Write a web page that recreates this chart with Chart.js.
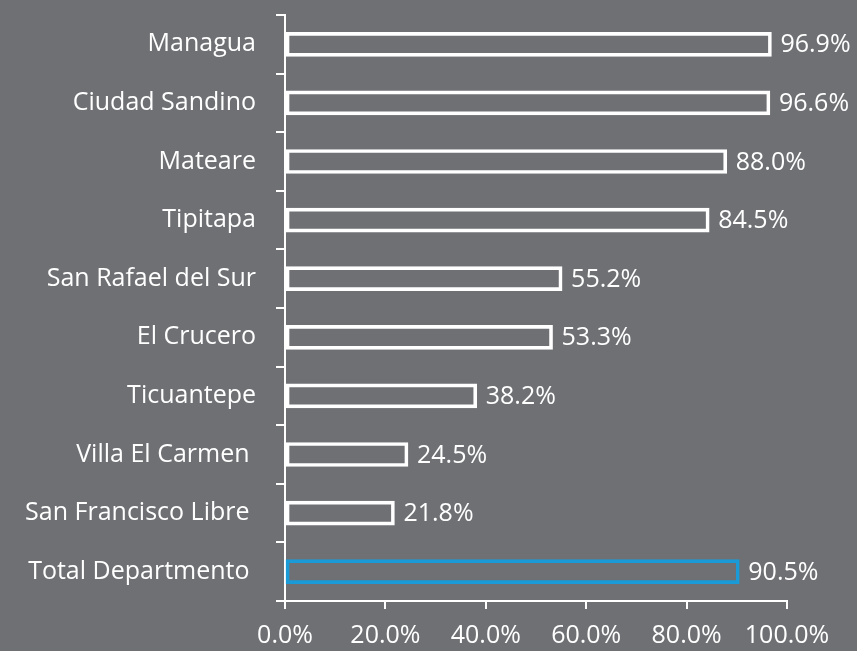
<!DOCTYPE html>
<html lang="es">
<head>
<meta charset="UTF-8" />
<title>Cobertura por municipio</title>
<style>
  html, body {
    margin: 0;
    padding: 0;
    background: #6e7074;
  }
  #wrap {
    width: 857px;
    height: 651px;
    position: relative;
  }
</style>
</head>
<body>
<div id="wrap"><canvas id="chart" width="857" height="651"></canvas></div>

<script src="https://cdn.jsdelivr.net/npm/chart.js"></script>
<script>
  // datos
  const municipios = ['Managua', 'Ciudad Sandino', 'Mateare', 'Tipitapa', 'San Rafael del Sur',
    'El Crucero', 'Ticuantepe', 'Villa El Carmen ', 'San Francisco Libre ', 'Total Departmento '];
  const valores = [96.9, 96.6, 88.0, 84.5, 55.2, 53.3, 38.2, 24.5, 21.8, 90.5];
  const bordes = ['#ffffff', '#ffffff', '#ffffff', '#ffffff', '#ffffff',
    '#ffffff', '#ffffff', '#ffffff', '#ffffff', '#1a9ad6'];
  const xTicks = [0, 20, 40, 60, 80, 100];

  const fuente = "'Open Sans', sans-serif";

  // etiquetas de valor al final de cada barra
  const etiquetas = {
    id: 'etiquetas',
    afterDatasetsDraw(chart) {
      const ctx = chart.ctx;
      const meta = chart.getDatasetMeta(0);
      ctx.save();
      ctx.fillStyle = '#ffffff';
      ctx.font = '25px ' + fuente;
      ctx.textAlign = 'left';
      ctx.textBaseline = 'middle';
      meta.data.forEach((bar, i) => {
        ctx.fillText(valores[i].toFixed(1) + '%', bar.x + 9, bar.y + 1);
      });
      ctx.restore();
    }
  };

  new Chart(document.getElementById('chart'), {
    type: 'bar',
    data: {
      labels: municipios,
      datasets: [{
        data: valores,
        backgroundColor: 'rgba(0,0,0,0)',
        borderColor: bordes,
        borderWidth: 3,
        borderSkipped: false,
        barThickness: 24
      }]
    },
    plugins: [etiquetas],
    options: {
      indexAxis: 'y',
      responsive: false,
      animation: false,
      layout: { padding: { top: 15, right: 70, left: 0, bottom: 0 } },
      plugins: {
        legend: { display: false },
        tooltip: { enabled: false }
      },
      scales: {
        x: {
          min: 0,
          max: 100,
          afterBuildTicks(axis) {
            axis.ticks = xTicks.map(v => ({ value: v }));
          },
          afterFit(axis) { axis.height = 50; },
          ticks: {
            color: '#ffffff',
            font: { family: fuente, size: 25 },
            padding: 12,
            maxRotation: 0,
            callback: v => v.toFixed(1) + '%'
          },
          grid: {
            drawOnChartArea: false,
            color: '#ffffff',
            lineWidth: 2,
            tickLength: 8
          },
          border: { display: true, color: '#ffffff', width: 2 }
        },
        y: {
          afterFit(axis) {
            axis.width = 285;
            axis.paddingTop = 0;
            axis.paddingBottom = 0;
          },
          ticks: {
            color: '#ffffff',
            font: { family: fuente, size: 25 },
            padding: 20
          },
          grid: {
            offset: true,
            drawOnChartArea: false,
            color: '#ffffff',
            lineWidth: 2,
            tickLength: 9
          },
          border: { display: true, color: '#ffffff', width: 2 }
        }
      }
    }
  });
</script>
</body>
</html>
